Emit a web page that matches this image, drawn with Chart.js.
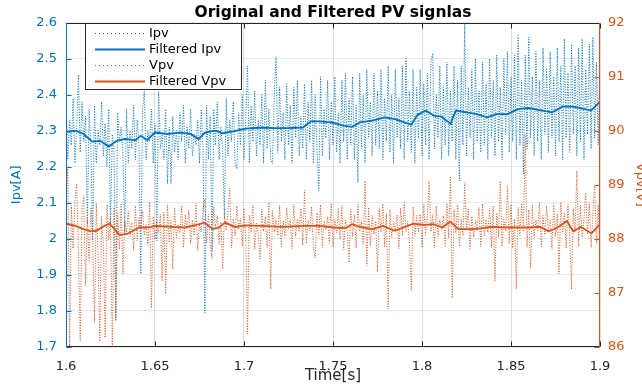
<!DOCTYPE html>
<html><head><meta charset="utf-8">
<script src="https://cdn.jsdelivr.net/npm/chart.js@4.4.1/dist/chart.umd.min.js"></script>
<style>html,body{margin:0;padding:0;background:#fff;}canvas{display:block;}</style>
</head><body>
<canvas id="c" width="642" height="385"></canvas>
<script>
// ---- data ----
const sampleStart = 1.6;      // s, first raw sample
const samplePeriod = 0.001;   // s, raw sampling period
const ipvRaw = [
 2.37,2.22,2.33,2.26,2.39,2.21,2.31,2.455,2.24,2.38,2.27,2.34,2.04,2.36,2.25,1.995,2.37,2.21,2.30,2.26,
 2.38,2.23,2.32,2.20,2.36,2.04,2.29,2.24,1.772,2.35,2.27,2.31,2.23,2.014,2.36,2.21,2.30,2.25,2.37,2.22,
 2.33,2.26,1.903,2.36,2.41,2.22,2.30,2.27,2.36,2.21,2.32,1.995,2.41,2.25,2.29,2.22,2.36,2.153,2.31,2.153,
 2.34,2.24,2.30,2.22,2.35,2.27,2.37,2.21,2.31,2.25,2.36,2.23,2.29,2.26,2.33,2.21,2.36,2.25,1.794,2.37,
 2.22,2.34,1.967,2.36,2.26,2.38,2.22,2.31,2.25,2.058,2.39,2.23,2.33,2.27,2.38,2.21,2.194,2.35,2.26,2.40,
 2.22,2.34,2.48,2.21,2.37,2.27,2.41,2.23,2.33,2.26,2.40,2.21,2.44,2.25,2.36,2.22,2.208,2.40,2.505,2.24,
 2.42,2.27,2.35,2.22,2.43,2.26,2.37,2.21,2.42,2.28,2.44,2.23,2.34,2.25,2.43,2.22,2.38,2.27,2.44,2.21,
 2.40,2.25,2.133,2.45,2.23,2.36,2.28,2.44,2.22,2.38,2.26,2.45,2.24,2.35,2.21,2.44,2.27,2.46,2.22,2.39,
 2.26,2.45,2.22,2.37,2.156,2.46,2.25,2.40,2.21,2.47,2.28,2.38,2.23,2.46,2.26,2.41,2.25,2.47,2.22,2.39,
 2.27,2.48,2.24,2.40,2.21,2.47,2.28,2.39,2.25,2.48,2.22,2.50,2.27,2.41,2.24,2.47,2.21,2.42,2.28,2.47,
 2.23,2.43,2.26,2.46,2.22,2.49,2.515,2.25,2.40,2.28,2.48,2.22,2.42,2.26,2.49,2.23,2.41,2.27,2.48,2.22,
 2.44,2.161,2.48,2.26,2.596,2.23,2.42,2.28,2.47,2.22,2.50,2.27,2.41,2.24,2.49,2.26,2.43,2.22,2.50,2.28,
 2.44,2.23,2.51,2.27,2.42,2.22,2.50,2.29,2.52,2.24,2.45,2.27,2.51,2.22,2.564,2.26,2.44,2.18,2.51,2.25,
 2.56,2.28,2.45,2.23,2.52,2.27,2.44,2.22,2.53,2.29,2.47,2.24,2.52,2.28,2.45,2.23,2.53,2.27,2.48,2.22,
 2.555,2.28,2.46,2.24,2.54,2.29,2.48,2.23,2.53,2.27,2.555,2.22,2.47,2.29,2.54,2.25,2.56,2.28,2.49,2.26,2.51
];
const vpvRaw = [
 88.45,89.32,85.99,88.62,87.82,88.71,89.02,87.76,86.11,88.55,88.8,87.13,88.38,87.6,88.57,87.95,86.45,88.66,87.7,86.10,
 88.42,87.88,86.17,88.63,87.98,88.36,85.96,88.58,86.52,88.47,87.81,88.64,87.35,88.33,88.12,88.52,88.04,88.30,87.78,88.61,
 87.96,88.39,88.15,88.52,88.06,88.27,87.88,88.68,86.72,88.41,87.99,88.32,88.10,88.45,87.22,88.49,86.98,88.63,87.93,88.34,
 87.44,88.58,88.02,88.27,88.11,88.62,87.84,88.45,88.18,88.53,87.91,88.35,88.06,88.66,87.78,88.28,88.13,88.56,88.74,87.92,
 88.46,87.87,87.63,88.59,88.21,88.43,87.9,88.31,87.44,88.42,88.15,88.54,88.94,87.83,88.37,88.06,88.61,88.17,88.38,87.86,
 88.57,87.93,86.24,88.44,88.12,88.63,87.81,88.29,88.07,87.63,88.55,88.14,88.41,87.84,88.67,87.07,88.52,88.12,88.36,88.06,
 88.62,87.86,88.33,88.05,88.58,88.18,88.36,87.82,88.64,88.04,88.37,88.13,88.56,87.88,88.9,87.91,88.35,88.15,88.6,87.83,
 87.65,88.48,88.07,88.63,87.84,88.33,88.17,88.41,87.92,88.66,87.85,88.36,88.11,88.57,87.99,88.62,87.8,88.34,88.16,87.56,
 88.55,88.04,88.45,87.83,88.64,88.14,88.32,87.9,89.07,87.5,88.58,87.87,88.43,88.08,88.33,87.38,88.56,88.13,88.65,87.85,
 88.47,86.7,88.54,88.03,88.32,88.16,88.44,87.82,88.57,88.06,88.67,88.14,88.32,87.86,87.04,88.59,88.05,88.43,88.12,88.46,
 87.84,88.64,88.07,88.41,89.07,88.13,88.45,87.83,88.61,88.04,88.36,88.17,88.43,87.87,88.66,88.02,89.14,86.9,88.54,88.11,
 88.63,87.86,88.37,88.06,89.04,88.15,88.55,87.82,88.42,88.03,88.34,88.16,88.58,87.85,88.65,88.05,88.36,88.12,88.57,87.84,
 88.61,87.22,88.48,88.03,89.07,87.86,88.36,88.14,88.98,87.91,88.64,87.83,88.37,87.07,88.58,88.06,88.66,88.13,89.94,87.84,
 88.54,87.46,88.63,88.02,88.35,88.15,88.67,87.85,88.43,88.07,88.61,88.16,88.34,87.82,88.65,88.04,88.47,87.35,88.68,88.11,
 88.49,87.83,88.64,88.05,87.07,88.56,88.13,89.26,87.86,88.62,88.03,88.37,88.85,88.08,88.66,87.84,88.48,88.98,87.91,88.63,87.65
];
const filtIpvTime = [1.600,1.6055,1.610,1.6147,1.6193,1.624,1.6285,1.633,1.639,1.642,1.6456,1.650,1.657,1.664,1.670,1.6745,1.678,1.684,1.688,1.694,1.701,1.710,1.717,1.724,1.733,1.7377,1.742,1.749,1.756,1.7607,1.765,1.772,1.779,1.7848,1.790,1.794,1.7975,1.802,1.8067,1.811,1.816,1.819,1.825,1.8308,1.8366,1.842,1.848,1.8538,1.8596,1.866,1.873,1.879,1.885,1.889,1.895,1.900];
const filtIpv = [2.297,2.300,2.291,2.270,2.272,2.256,2.272,2.277,2.274,2.286,2.274,2.295,2.291,2.295,2.291,2.277,2.295,2.300,2.293,2.298,2.306,2.309,2.307,2.307,2.309,2.326,2.326,2.323,2.314,2.311,2.323,2.328,2.337,2.332,2.323,2.317,2.344,2.356,2.342,2.339,2.319,2.356,2.351,2.346,2.337,2.346,2.346,2.360,2.363,2.357,2.351,2.367,2.367,2.363,2.356,2.381];
const filtVpvTime = [1.600,1.6055,1.609,1.6138,1.617,1.6216,1.6245,1.6273,1.630,1.6342,1.6377,1.6411,1.6457,1.6503,1.6595,1.6664,1.6733,1.6779,1.6825,1.686,1.6894,1.6951,1.7009,1.710,1.7216,1.7331,1.7423,1.7503,1.7572,1.7607,1.7653,1.7722,1.778,1.7848,1.7894,1.7952,1.801,1.8067,1.8113,1.8159,1.8205,1.8297,1.8389,1.848,1.8596,1.8665,1.8711,1.8757,1.8814,1.8849,1.8894,1.8952,1.900];
const filtVpv = [88.28,88.24,88.19,88.14,88.15,88.24,88.28,88.18,88.07,88.09,88.15,88.21,88.21,88.24,88.22,88.21,88.26,88.30,88.18,88.21,88.30,88.22,88.25,88.24,88.22,88.24,88.24,88.21,88.20,88.27,88.22,88.18,88.24,88.15,88.21,88.28,88.26,88.27,88.21,88.32,88.18,88.18,88.22,88.21,88.21,88.22,88.14,88.20,88.33,88.14,88.22,88.10,88.27];
const seriesLabels = ['Ipv','Filtered Ipv','Vpv','Filtered Vpv'];
const xTickValues = [1.6,1.65,1.7,1.75,1.8,1.85,1.9];
const xTickLabels = ['1.6','1.65','1.7','1.75','1.8','1.85','1.9'];
const ipvTickValues = [1.7,1.8,1.9,2.0,2.1,2.2,2.3,2.4,2.5,2.6];
const ipvTickLabels = ['1.7','1.8','1.9','2','2.1','2.2','2.3','2.4','2.5','2.6'];
const vpvTickValues = [86,87,88,89,90,91,92];
const vpvTickLabels = ['86','87','88','89','90','91','92'];

// ---- chart ----
const BLUE = '#0072BD', ORANGE = '#D95319', DARK = '#262626';
Chart.defaults.font.family = "'DejaVu Sans', sans-serif";
const rawPts = arr => arr.map((v, i) => ({x: sampleStart + i * samplePeriod, y: v}));
const pairPts = (ts, vs) => vs.map((v, i) => ({x: ts[i], y: v}));

const framePlugin = {
  id: 'frame',
  afterDatasetsDraw(chart) {
    const {ctx, chartArea: a, scales} = chart;
    const L = Math.round(a.left) + 0.5, R = Math.round(a.right) - 0.5;
    const T = Math.round(a.top) + 0.5, B = Math.round(a.bottom) - 0.5;
    const tl = 5;
    ctx.save();
    ctx.lineWidth = 1;
    const seg = (x1, y1, x2, y2, c) => { ctx.strokeStyle = c; ctx.beginPath(); ctx.moveTo(x1, y1); ctx.lineTo(x2, y2); ctx.stroke(); };
    scales.x.ticks.forEach(t => {
      const px = Math.round(scales.x.getPixelForValue(t.value)) + 0.5;
      seg(px, B, px, B - tl, DARK); seg(px, T, px, T + tl, DARK);
    });
    scales.y.ticks.forEach(t => {
      const py = Math.round(scales.y.getPixelForValue(t.value)) + 0.5;
      seg(L, py, L + tl, py, BLUE);
    });
    scales.y1.ticks.forEach(t => {
      const py = Math.round(scales.y1.getPixelForValue(t.value)) + 0.5;
      seg(R, py, R - tl, py, ORANGE);
    });
    seg(L, T, R, T, DARK);
    seg(L, B, R, B, DARK);
    seg(L, T, L, B + 0.5, BLUE);
    seg(R, T, R, B + 0.5, ORANGE);
    ctx.restore();
  }
};

const legendPlugin = {
  id: 'boxLegend',
  afterDraw(chart) {
    const ctx = chart.ctx;
    const x0 = 85.5, y0 = 23.5, w = 156, h = 66;
    ctx.save();
    ctx.fillStyle = '#fff'; ctx.fillRect(x0, y0, w, h);
    ctx.strokeStyle = DARK; ctx.lineWidth = 1; ctx.strokeRect(x0, y0, w, h);
    ctx.font = "13px 'DejaVu Sans', sans-serif";
    ctx.textBaseline = 'middle'; ctx.textAlign = 'left';
    chart.data.datasets.forEach((ds, k) => {
      const y = 33.5 + 16 * k;
      ctx.strokeStyle = ds.borderColor;
      ctx.lineWidth = ds.borderWidth;
      ctx.setLineDash(ds.borderDash && ds.borderDash.length ? [1, 3] : []);
      ctx.beginPath(); ctx.moveTo(95, y); ctx.lineTo(145, y); ctx.stroke();
      ctx.setLineDash([]);
      ctx.fillStyle = '#000';
      ctx.fillText(ds.label, 149, y);
    });
    ctx.restore();
  }
};

new Chart(document.getElementById('c'), {
  type: 'line',
  data: {
    datasets: [
      {label: seriesLabels[0], data: rawPts(ipvRaw), yAxisID: 'y', borderColor: BLUE, borderWidth: 1, borderDash: [1, 1.6], pointRadius: 0, tension: 0, order: 4},
      {label: seriesLabels[1], data: pairPts(filtIpvTime, filtIpv), yAxisID: 'y', borderColor: BLUE, borderWidth: 1.8, pointRadius: 0, tension: 0, order: 2},
      {label: seriesLabels[2], data: rawPts(vpvRaw), yAxisID: 'y1', borderColor: ORANGE, borderWidth: 1, borderDash: [1, 1.6], pointRadius: 0, tension: 0, order: 3},
      {label: seriesLabels[3], data: pairPts(filtVpvTime, filtVpv), yAxisID: 'y1', borderColor: ORANGE, borderWidth: 1.8, pointRadius: 0, tension: 0, order: 1}
    ]
  },
  options: {
    responsive: false,
    animation: false,
    devicePixelRatio: 1,
    layout: {padding: 0},
    plugins: {
      legend: {display: false},
      tooltip: {enabled: false},
      title: {display: true, fullSize: false, text: 'Original and Filtered PV signlas', color: '#000',
              font: {size: 15.5, weight: 'bold'}, padding: {top: 4, bottom: 0}}
    },
    scales: {
      x: {
        type: 'linear', min: 1.6, max: 1.9,
        afterBuildTicks: s => { s.ticks = xTickValues.map(v => ({value: v})); },
        afterFit: s => { s.height = 38; },
        ticks: {color: DARK, font: {size: 13}, padding: 12, maxRotation: 0, callback: (v, i) => xTickLabels[i]},
        grid: {color: 'rgba(38,38,38,0.16)', drawTicks: false},
        border: {display: false},
        title: {display: true, text: 'Time[s]', color: DARK, font: {size: 15}, padding: {top: 0, bottom: 0}}
      },
      y: {
        type: 'linear', position: 'left', min: 1.7, max: 2.6,
        afterBuildTicks: s => { s.ticks = ipvTickValues.map(v => ({value: v})); },
        afterFit: s => { s.width = 66; },
        ticks: {color: BLUE, font: {size: 13}, padding: 9, callback: (v, i) => ipvTickLabels[i]},
        grid: {color: 'rgba(0,95,170,0.12)', drawTicks: false},
        border: {display: false},
        title: {display: true, text: 'Ipv[A]', color: BLUE, font: {size: 13}, padding: {top: 9, bottom: 0}}
      },
      y1: {
        type: 'linear', position: 'right', min: 86, max: 92,
        afterBuildTicks: s => { s.ticks = vpvTickValues.map(v => ({value: v})); },
        afterFit: s => { s.width = 42; },
        ticks: {color: ORANGE, font: {size: 13}, padding: 8, callback: (v, i) => vpvTickLabels[i]},
        grid: {display: false, drawTicks: false},
        border: {display: false},
        title: {display: true, text: 'Vpv[V]', color: ORANGE, font: {size: 13}, padding: {top: -6, bottom: 0}}
      }
    }
  },
  plugins: [framePlugin, legendPlugin]
});
</script>
</body></html>
